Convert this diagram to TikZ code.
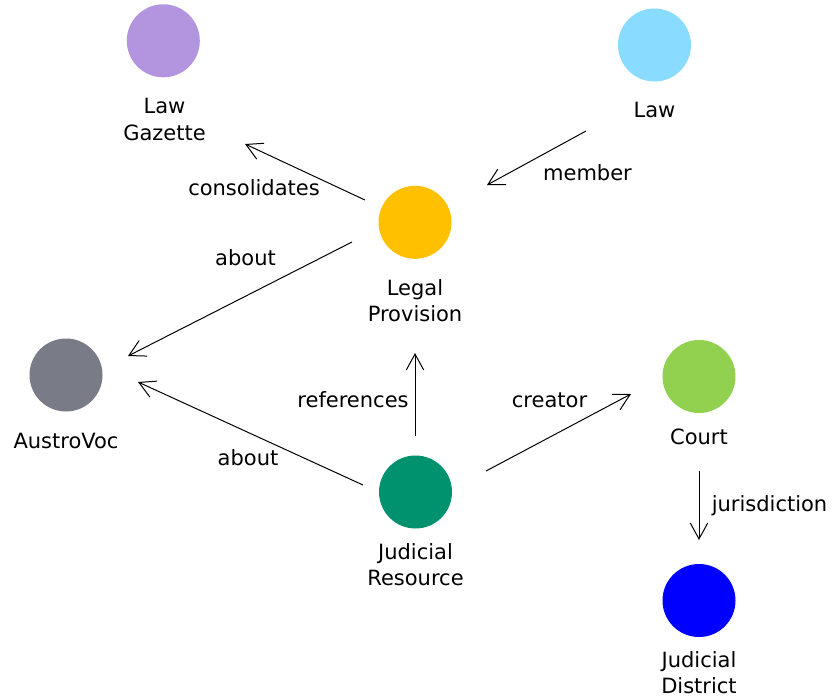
\documentclass[tikz,border=0pt]{standalone}
\usepackage{fontspec}
\setmainfont{DejaVu Sans}
\usetikzlibrary{arrows.meta}
\definecolor{cLG}{HTML}{B294DF}
\definecolor{cLaw}{HTML}{89DBFF}
\definecolor{cLP}{HTML}{FFC000}
\definecolor{cAV}{HTML}{797C87}
\definecolor{cCourt}{HTML}{92D050}
\definecolor{cJR}{HTML}{00916E}
\definecolor{cJD}{HTML}{0000FF}
\tikzset{
  dot/.style={circle, draw=none, inner sep=0pt, minimum size=73pt},
  lbl/.style={anchor=base, align=center, inner sep=0pt, font=\fontsize{21}{26.5}\selectfont},
  elbl/.style={anchor=base, inner sep=0pt, font=\fontsize{21}{26.5}\selectfont},
  arr/.style={-{Straight Barb[length=16pt,width=17.5pt]}, line width=1pt, black}
}
\begin{document}
\begin{tikzpicture}[x=1pt,y=-1pt]
\fill[white] (0,0) rectangle (832,697);
\useasboundingbox (0,0) rectangle (832,697);
% nodes
\node[dot, fill=cLG] (lg) at (163.3,40.8) {};
\node[dot, fill=cLaw] (law) at (654.5,45) {};
\node[dot, fill=cLP] (lp) at (415,222.3) {};
\node[dot, fill=cAV] (av) at (66,375) {};
\node[dot, fill=cCourt] (court) at (699,376.5) {};
\node[dot, fill=cJR] (jr) at (415.5,492) {};
\node[dot, fill=cJD] (jd) at (699,600.5) {};
% labels (anchor at baseline of last line)
\node[lbl] (lgt) at (164.5,140) {Law\\Gazette};
\node[lbl] (lawt) at (654.5,117) {Law};
\node[lbl] (lpt) at (415,321.5) {Legal\\Provision};
\node[lbl] (avt) at (66,448) {AustroVoc};
\node[lbl] (courtt) at (699,444) {Court};
\node[lbl] (jrt) at (415.5,585.5) {Judicial\\Resource};
\node[lbl] (jdt) at (699,693.5) {Judicial\\District};
% edges
\draw[arr] ([shift={(-50,-22.3)}]lp.center) -- ([shift={(81.7,103.2)}]lg.center);
\draw[arr] ([shift={(-68.5,86)}]law.center) -- ([shift={(72,-37.3)}]lp.center);
\draw[arr] ([shift={(-63,19.7)}]lp.center) -- ([shift={(62,-19)}]av.center);
\draw[arr] ([shift={(-52.5,-7)}]jr.center) -- ([shift={(72,7)}]av.center);
\draw[arr] ([shift={(-0.5,-56)}]jr.center) -- ([shift={(0,130.7)}]lp.center);
\draw[arr] ([shift={(70.5,-21)}]jr.center) -- ([shift={(-68,17.5)}]court.center);
\draw[arr] ([shift={(0,94.5)}]court.center) -- ([shift={(0,-60.5)}]jd.center);
% edge labels
\node[elbl] (e1) at (254,195) {consolidates};
\node[elbl] (e2) at (587.5,180) {member};
\node[elbl] (e3) at (245.5,265.7) {about};
\node[elbl] (e4) at (248,465) {about};
\node[elbl] (e5) at (353,407) {references};
\node[elbl] (e6) at (549.5,407) {creator};
\node[elbl] (e7) at (769.5,511) {jurisdiction};
\end{tikzpicture}
\end{document}
